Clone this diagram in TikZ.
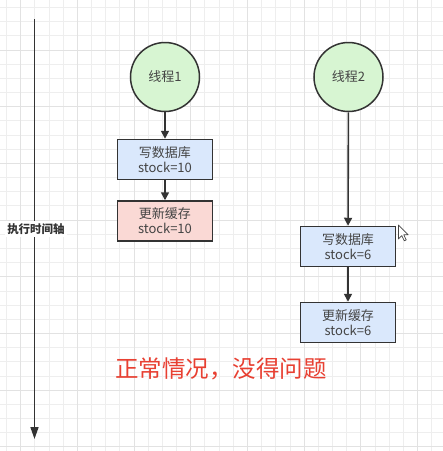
\documentclass[tikz,border=0pt]{standalone}
\usepackage{fontspec}
\setmainfont{Noto Sans CJK SC}
\usetikzlibrary{arrows.meta}
\definecolor{gridminor}{RGB}{238,238,238}
\definecolor{gridmajor}{RGB}{226,226,226}
\definecolor{edgecol}{RGB}{51,51,51}
\definecolor{textcol}{RGB}{68,68,68}
\definecolor{greenfill}{RGB}{215,245,210}
\definecolor{bluefill}{RGB}{218,232,252}
\definecolor{redfill}{RGB}{250,217,213}
\definecolor{redtext}{RGB}{232,64,50}
\tikzset{
  thread/.style={circle, draw=edgecol, line width=1.5pt, fill=greenfill, minimum size=69pt, inner sep=0pt, text=textcol, font=\fontsize{13}{15}\selectfont},
  opbox/.style={rectangle, draw=edgecol, line width=1.5pt, minimum width=95pt, minimum height=40pt, inner sep=0pt, align=center, text=textcol, font=\fontsize{13}{15}\selectfont},
  flow/.style={draw=edgecol, line width=1.6pt, -{Triangle[length=8pt,width=8pt]}},
  axis/.style={draw=edgecol, line width=1.6pt, -{Triangle[length=12pt,width=8pt]}},
}
\begin{document}
\begin{tikzpicture}[x=1pt,y=-1pt]
\fill[white] (0,0) rectangle (443,451);
\useasboundingbox (0,0) rectangle (443,451);
% grid
\foreach \i in {0,...,31} {
  \draw[gridminor, line width=0.8pt] ({6.5+14.17*\i},0) -- ({6.5+14.17*\i},451);
  \draw[gridminor, line width=0.8pt] (0,{7.5+14.17*\i}) -- (443,{7.5+14.17*\i});
}
\foreach \i in {0,...,7} {
  \draw[gridmajor, line width=0.8pt] ({20.6+56.68*\i},0) -- ({20.6+56.68*\i},451);
  \draw[gridmajor, line width=0.8pt] (0,{50+56.68*\i}) -- (443,{50+56.68*\i});
}
% time axis
\coordinate (tstart) at (34.5,19);
\coordinate (tend) at (34.5,439);
\draw[axis] (tstart) -- (tend);
\node[fill=white, inner sep=2pt, text=edgecol, font=\fontsize{11.5}{13}\selectfont\bfseries] (axislabel) at (36,229) {执行时间轴};
% thread 1
\node[thread] (t1) at (165,77) {线程1};
\node[opbox, fill=bluefill] (w1) at (165,159.5) {写数据库\\stock=10};
\node[opbox, fill=redfill] (c1) at (165,221) {更新缓存\\stock=10};
\draw[flow] (t1) -- (w1);
\draw[flow] (w1) -- (c1);
% thread 2
\node[thread] (t2) at (348.5,77) {线程2};
\node[opbox, fill=bluefill] (w2) at (348,246.5) {写数据库\\stock=6};
\node[opbox, fill=bluefill] (c2) at (348,322.5) {更新缓存\\stock=6};
\draw[flow] (t2) -- (w2);
\draw[flow] (w2) -- (c2);
% note
\node[text=redtext, font=\fontsize{23.5}{26}\selectfont, inner sep=0pt] (note) at (221,369) {正常情况，没得问题};
% mouse cursor
\draw[fill=white, draw=textcol, line width=0.7pt, line join=round]
  (398.5,225) -- (398.5,239) -- (401.8,235.6) -- (404.3,240.8) -- (406.2,239.9) -- (403.8,234.8) -- (408.2,234.8) -- cycle;
\end{tikzpicture}
\end{document}
